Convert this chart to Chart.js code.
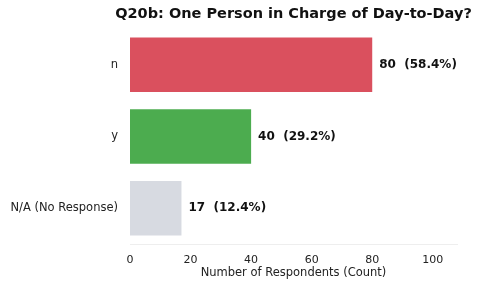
<!DOCTYPE html>
<html>
<head>
<meta charset="utf-8">
<script src="https://cdn.jsdelivr.net/npm/chart.js@4.4.1/dist/chart.umd.min.js"></script>
<style>
  html, body { margin: 0; padding: 0; background: #fff; }
  #wrap { width: 477px; height: 282px; }
</style>
</head>
<body>
<div id="wrap"><canvas id="grafico" width="477" height="282"></canvas></div>
<script>
// Datos del gráfico
const categorias = ["n", "y", "N/A (No Response)"];
const respuestas = [80, 40, 17];
const porcentajes = ["58.4%", "29.2%", "12.4%"];
const colores = ["#da505e", "#4cac4f", "#d7dae1"];
const ticksX = [0, 20, 40, 60, 80, 100];
const titulo = "Q20b: One Person in Charge of Day-to-Day?";

Chart.defaults.font.family = "'DejaVu Sans', sans-serif";
Chart.defaults.color = "#222";

// Título y etiquetas al final de cada barra
const etiquetasBarras = {
  id: "etiquetasBarras",
  afterDatasetsDraw(chart) {
    const ctx = chart.ctx;
    const meta = chart.getDatasetMeta(0);
    ctx.save();
    ctx.font = "bold 12px 'DejaVu Sans', sans-serif";
    ctx.fillStyle = "#111";
    ctx.textAlign = "left";
    ctx.textBaseline = "middle";
    meta.data.forEach((bar, i) => {
      ctx.fillText(respuestas[i] + "  (" + porcentajes[i] + ")", bar.x + 7, bar.y);
    });

    // título centrado sobre el área del gráfico
    ctx.font = "bold 14.5px 'DejaVu Sans', sans-serif";
    ctx.textAlign = "center";
    const area = chart.chartArea;
    ctx.fillText(titulo, (area.left + area.right) / 2, 14);
    ctx.restore();
  }
};

const ctx = document.getElementById("grafico").getContext("2d");
new Chart(ctx, {
  type: "bar",
  data: {
    labels: categorias,
    datasets: [{
      data: respuestas,
      backgroundColor: colores,
      borderWidth: 0,
      categoryPercentage: 1,
      barPercentage: 0.76
    }]
  },
  options: {
    indexAxis: "y",
    responsive: false,
    animation: false,
    layout: { padding: { left: 0, right: 20, top: 29, bottom: 2 } },
    plugins: {
      legend: { display: false },
      tooltip: { enabled: false },
      title: { display: false }
    },
    scales: {
      x: {
        min: 0,
        max: 108,
        afterBuildTicks(scale) {
          scale.ticks = ticksX.map(v => ({ value: v }));
        },
        afterFit(scale) { scale.height = 36; },
        grid: { display: false },
        border: { display: true, color: "#eeeeee" },
        ticks: { font: { size: 11 }, color: "#222", padding: 2 },
        title: {
          display: true,
          text: "Number of Respondents (Count)",
          font: { size: 11.5 },
          color: "#222",
          padding: { top: 0, bottom: 0 }
        }
      },
      y: {
        afterFit(scale) { scale.width = 130; },
        grid: { display: false },
        border: { display: false },
        ticks: { font: { size: 11.5 }, color: "#222", padding: 4 }
      }
    }
  },
  plugins: [etiquetasBarras]
});
</script>
</body>
</html>
